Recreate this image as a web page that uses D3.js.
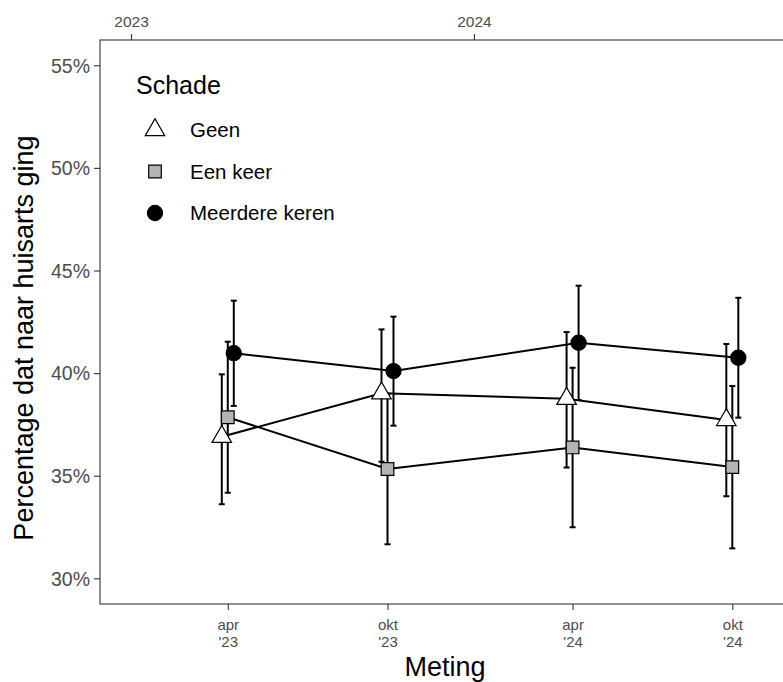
<!DOCTYPE html>
<html>
<head>
<meta charset="utf-8">
<script src="https://cdn.jsdelivr.net/npm/d3@7"></script>
<style>
  html, body { margin: 0; padding: 0; background: #fff; }
  svg { display: block; font-family: "Liberation Sans", Arial, Helvetica, sans-serif; }
</style>
</head>
<body>
<svg id="chart" width="783" height="682"></svg>
<script>
// ---------- data ----------
const metingLabels = ["apr\n'23", "okt\n'23", "apr\n'24", "okt\n'24"];
const metingDates = ["2023-04-14", "2023-10-01", "2024-04-15", "2024-10-02"];
const seriesNames = ["Geen", "Een keer", "Meerdere keren"];

const geenPct = [36.9, 39.02, 38.75, 37.72];
const geenLower = [33.61, 35.68, 35.40, 34.00];
const geenUpper = [39.94, 42.13, 42.00, 41.42];

const eenKeerPct = [37.85, 35.33, 36.38, 35.42];
const eenKeerLower = [34.17, 31.66, 32.49, 31.46];
const eenKeerUpper = [41.53, 39.00, 40.26, 39.37];

const meerderePct = [40.97, 40.10, 41.48, 40.75];
const meerdereLower = [38.40, 37.44, 38.69, 37.83];
const meerdereUpper = [43.53, 42.75, 44.26, 43.67];

const yTicks = [30, 35, 40, 45, 50, 55];
const yearTicks = ["2023-01-01", "2024-01-01"];

// ---------- build ----------
const parse = d3.timeParse("%Y-%m-%d");
const dates = metingDates.map(parse);
const seriesData = [
  { name: seriesNames[0], pct: geenPct, lo: geenLower, hi: geenUpper, shape: "triangle" },
  { name: seriesNames[1], pct: eenKeerPct, lo: eenKeerLower, hi: eenKeerUpper, shape: "square" },
  { name: seriesNames[2], pct: meerderePct, lo: meerdereLower, hi: meerdereUpper, shape: "circle" }
].map(s => ({ ...s, values: dates.map((d, i) => ({ date: d, v: s.pct[i], lo: s.lo[i], hi: s.hi[i] })) }));

const svg = d3.select("#chart");
const panel = { left: 100, top: 40, bottom: 604, right: 846 };

const x = d3.scaleTime()
  .domain([parse("2022-11-29"), parse("2025-01-31")])
  .range([panel.left, panel.right]);
const y = d3.scaleLinear().domain([28.75, 56.23]).range([panel.bottom, panel.top]);
const dodge = d3.scalePoint().domain(seriesNames).range([-6, 6]);

const shapeStyle = {
  triangle: { type: d3.symbolTriangle, size: 165, fill: "#ffffff" },
  square: { type: d3.symbolSquare, size: 160, fill: "#b3b3b3" },
  circle: { type: d3.symbolCircle, size: 180, fill: "#000000" }
};

// panel border
svg.append("rect")
  .attr("x", panel.left).attr("y", panel.top)
  .attr("width", panel.right - panel.left).attr("height", panel.bottom - panel.top)
  .attr("fill", "none").attr("stroke", "#333333").attr("stroke-width", 1.1);

// y axis
const yAxis = svg.append("g").attr("transform", `translate(${panel.left},0)`)
  .call(d3.axisLeft(y).tickValues(yTicks).tickSize(6).tickPadding(4).tickFormat(d => d + "%"));
yAxis.select(".domain").remove();
yAxis.selectAll(".tick line").attr("stroke", "#333333").attr("stroke-width", 1.1);
yAxis.selectAll(".tick text").attr("fill", "#4d4d4d").style("font-size", "19.5px").attr("dy", "0.35em");

// bottom axis
const xAxis = svg.append("g").attr("transform", `translate(0,${panel.bottom})`)
  .call(d3.axisBottom(x).tickValues(dates).tickSize(6).tickFormat(""));
xAxis.select(".domain").remove();
xAxis.selectAll(".tick line").attr("stroke", "#333333").attr("stroke-width", 1.1);
xAxis.selectAll(".tick").each(function(d, i) {
  const lines = metingLabels[i].split("\n");
  const t = d3.select(this).append("text")
    .attr("text-anchor", "middle").attr("fill", "#4d4d4d").style("font-size", "15px");
  lines.forEach((ln, k) => t.append("tspan").attr("x", 0).attr("y", 26 + k * 17).text(ln));
});

// top axis
const topAxis = svg.append("g").attr("transform", `translate(0,${panel.top})`)
  .call(d3.axisTop(x).tickValues(yearTicks.map(parse)).tickSize(6).tickPadding(7).tickFormat(d3.timeFormat("%Y")));
topAxis.select(".domain").remove();
topAxis.selectAll(".tick line").attr("stroke", "#333333").attr("stroke-width", 1.1);
topAxis.selectAll(".tick text").attr("fill", "#4d4d4d").style("font-size", "15.5px");

// axis titles
svg.append("text")
  .attr("transform", `translate(33,338) rotate(-90)`)
  .attr("text-anchor", "middle").attr("fill", "#000").style("font-size", "27px")
  .text("Percentage dat naar huisarts ging");
svg.append("text")
  .attr("x", 445).attr("y", 676)
  .attr("text-anchor", "middle").attr("fill", "#000").style("font-size", "27px")
  .text("Meting");

const px = (s, d) => x(d.date) + dodge(s.name);

// lines
const line = d3.line();
svg.append("g").selectAll("path").data(seriesData).join("path")
  .attr("d", s => line(s.values.map(d => [px(s, d), y(d.v)])))
  .attr("fill", "none").attr("stroke", "#000").attr("stroke-width", 2);

// error bars
const eb = svg.append("g").attr("stroke", "#000").attr("stroke-width", 2).attr("fill", "none");
seriesData.forEach(s => {
  s.values.forEach(d => {
    const cx = px(s, d);
    eb.append("line").attr("x1", cx).attr("x2", cx).attr("y1", y(d.lo)).attr("y2", y(d.hi));
    eb.append("line").attr("x1", cx - 3).attr("x2", cx + 3).attr("y1", y(d.lo)).attr("y2", y(d.lo));
    eb.append("line").attr("x1", cx - 3).attr("x2", cx + 3).attr("y1", y(d.hi)).attr("y2", y(d.hi));
  });
});

// points
seriesData.forEach(s => {
  const st = shapeStyle[s.shape];
  svg.append("g").selectAll("path").data(s.values).join("path")
    .attr("transform", d => `translate(${px(s, d)},${y(d.v)})`)
    .attr("d", d3.symbol().type(st.type).size(st.size))
    .attr("fill", st.fill).attr("stroke", "#000").attr("stroke-width", 1.2);
});

// legend
const legend = svg.append("g");
legend.append("rect").attr("x", 120).attr("y", 60).attr("width", 240).attr("height", 180).attr("fill", "#fff");
legend.append("text").attr("x", 136).attr("y", 94).style("font-size", "25px").attr("fill", "#000").text("Schade");
const legendY = d3.scalePoint().domain(seriesNames).range([130, 213]);
seriesData.forEach(s => {
  const st = shapeStyle[s.shape];
  legend.append("path")
    .attr("transform", `translate(155,${legendY(s.name)})`)
    .attr("d", d3.symbol().type(st.type).size(st.size))
    .attr("fill", st.fill).attr("stroke", "#000").attr("stroke-width", 1.2);
  legend.append("text").attr("x", 190).attr("y", legendY(s.name)).attr("dy", "0.36em")
    .style("font-size", "20.5px").attr("fill", "#000").text(s.name);
});
</script>
</body>
</html>
